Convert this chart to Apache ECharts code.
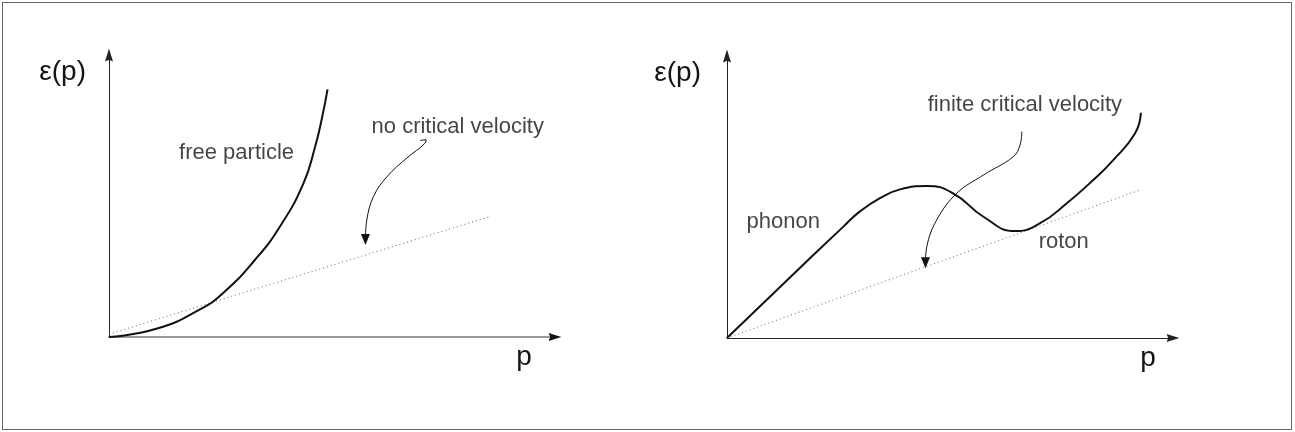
<!DOCTYPE html>
<html>
<head>
<meta charset="utf-8">
<script src="https://cdn.jsdelivr.net/npm/echarts@6/dist/echarts.min.js"></script>
<style>
  html, body { margin: 0; padding: 0; background: #fff; }
  #wrap { position: relative; width: 1295px; height: 432px; }
  #chart { position: absolute; left: 0; top: 0; width: 1295px; height: 432px; }
  #frame { position: absolute; left: 2px; top: 2px; width: 1288px; height: 426px;
           border: 1.5px solid #666; pointer-events: none; }
</style>
</head>
<body>
<div id="wrap">
  <div id="chart"></div>
  <div id="frame"></div>
</div>
<script>
// Dispersion sketches: energy ε(p) versus momentum p (arbitrary units, 0..10).

// Left panel: free particle, ε ∝ p² (steepening parabola)
const freeParticle = [
  [0, 0], [1.08, 0.30], [2.04, 0.98], [2.56, 1.56], [3.27, 2.73],
  [3.83, 3.91], [4.36, 5.45], [4.62, 6.74], [4.78, 7.80], [4.90, 8.78]
];
// Tangent-from-origin line (slope = critical velocity) for the free particle
const freeCriticalLine = [[0, 0.1], [8.54, 4.27]];
// Curved pointer from the "no critical velocity" note down to the line
const freePointer = [
  [6.98, 6.97], [7.11, 7.00], [7.09, 6.88], [6.68, 6.35], [6.23, 5.68],
  [5.93, 4.98], [5.78, 4.15], [5.75, 3.46]
];

// Right panel: superfluid helium spectrum — linear phonon branch, maximum, roton minimum
const heliumSpectrum = [
  [0, 0], [1.30, 1.98], [2.61, 3.95], [2.98, 4.49], [3.43, 4.96],
  [3.88, 5.27], [4.48, 5.39], [5.07, 5.13], [5.75, 4.30], [6.46, 3.79],
  [7.02, 4.07], [7.62, 4.78], [8.21, 5.60], [8.66, 6.31], [9.15, 7.26], [9.28, 7.99]
];
// Landau critical line, tangent to the roton minimum
const heliumCriticalLine = [[0, 0], [9.26, 5.25]];
// Curved pointer from the "finite critical velocity" note down to the line
const heliumPointer = [
  [6.61, 7.32], [6.57, 6.84], [6.42, 6.43], [5.75, 5.78], [5.15, 5.13],
  [4.70, 4.18], [4.48, 3.24], [4.45, 2.67]
];

// Annotations: text and the point each one is centred on
const leftNotes = [
  { text: 'free particle', at: [2.86, 6.52] },
  { text: 'no critical velocity', at: [7.82, 7.46] }
];
const rightNotes = [
  { text: 'phonon', at: [1.26, 4.12] },
  { text: 'roton', at: [7.55, 3.41] },
  { text: 'finite critical velocity', at: [6.68, 8.26] }
];

const axisNames = { energy: 'ε(p)', momentum: 'p' };
const axisRange = { min: 0, max: 10 };

const FONT = "'Liberation Sans', Arial, Helvetica, sans-serif";
const INK = '#111';
const TEXT = '#151515';
const arrowHead = 'path://M5,0 L10,16 L5,14 L0,16 Z';

function valueAxis(gridIndex, extra) {
  return Object.assign({
    type: 'value', gridIndex: gridIndex,
    min: axisRange.min, max: axisRange.max,
    axisTick: { show: false }, axisLabel: { show: false }, splitLine: { show: false }
  }, extra);
}

function yAxisFor(gridIndex, padRight) {
  return valueAxis(gridIndex, {
    name: axisNames.energy,
    nameLocation: 'end',
    nameGap: -17,
    nameTextStyle: { fontFamily: FONT, fontSize: 28, color: TEXT,
      align: 'right', verticalAlign: 'middle', padding: [0, padRight, 0, 0] },
    axisLine: { show: true, symbol: ['none', arrowHead], symbolSize: [8, 16],
      lineStyle: { color: '#222', width: 1 } }
  });
}

function xAxisFor(gridIndex, nameGap, lineColor, lineWidth, withArrow) {
  return valueAxis(gridIndex, {
    position: 'bottom',
    name: axisNames.momentum,
    nameLocation: 'end',
    nameGap: nameGap,
    nameTextStyle: { fontFamily: FONT, fontSize: 28, color: TEXT,
      align: 'center', verticalAlign: 'top', padding: [6, 0, 0, 0] },
    axisLine: { show: true, onZero: false,
      symbol: withArrow ? ['none', arrowHead] : ['none', 'none'], symbolSize: [8, 16],
      lineStyle: { color: lineColor, width: lineWidth } }
  });
}

function curve(name, data, xi, width) {
  return {
    name: name, type: 'line', xAxisIndex: xi, yAxisIndex: xi, data: data,
    smooth: 0.5, showSymbol: false, symbol: 'none', silent: true,
    lineStyle: { color: INK, width: width }
  };
}

function dotted(name, data, xi) {
  return {
    name: name, type: 'line', xAxisIndex: xi, yAxisIndex: xi, data: data,
    showSymbol: false, symbol: 'none', silent: true,
    lineStyle: { color: '#666', width: 1, type: [1, 3] }
  };
}

function pointer(name, data, xi) {
  const last = data.length - 1;
  return {
    name: name, type: 'line', xAxisIndex: xi, yAxisIndex: xi, smooth: 0.4, silent: true,
    lineStyle: { color: INK, width: 1 },
    itemStyle: { color: INK },
    data: data.map(function (p, i) {
      return i === last
        ? { value: p, symbol: 'triangle', symbolSize: [9, 11], symbolRotate: 180 }
        : { value: p, symbol: 'none' };
    })
  };
}

function notes(name, list, xi) {
  return {
    name: name, type: 'scatter', xAxisIndex: xi, yAxisIndex: xi, silent: true,
    symbolSize: 1, itemStyle: { color: 'rgba(0,0,0,0)' },
    label: { show: true, position: 'inside', align: 'center', verticalAlign: 'middle',
      fontFamily: FONT, fontSize: 22, color: TEXT,
      formatter: function (p) { return list[p.dataIndex].text; } },
    data: list.map(function (n) { return n.at; })
  };
}

const chart = echarts.init(document.getElementById('chart'), null, { renderer: 'canvas' });
chart.setOption({
  animation: false,
  backgroundColor: '#fff',
  grid: [
    { left: 109, top: 55, width: 446, height: 282 },
    { left: 727, top: 56, width: 446, height: 282 }
  ],
  xAxis: [
    xAxisFor(0, -31, '#999', 2, false),
    xAxisFor(1, -25, '#222', 1, true),
    // arrow head of the left momentum axis, drawn in ink over the grey axis line
    Object.assign(xAxisFor(0, 0, INK, 0.01, true), { name: '', offset: 0 })
  ],
  yAxis: [
    yAxisFor(0, 23),
    yAxisFor(1, 26),
    valueAxis(0, { show: false })
  ],
  series: [
    dotted('free critical line', freeCriticalLine, 0),
    curve('free particle', freeParticle, 0, 2),
    pointer('free pointer', freePointer, 0),
    notes('left notes', leftNotes, 0),
    dotted('helium critical line', heliumCriticalLine, 1),
    curve('helium spectrum', heliumSpectrum, 1, 2),
    pointer('helium pointer', heliumPointer, 1),
    notes('right notes', rightNotes, 1)
  ]
});
</script>
</body>
</html>
